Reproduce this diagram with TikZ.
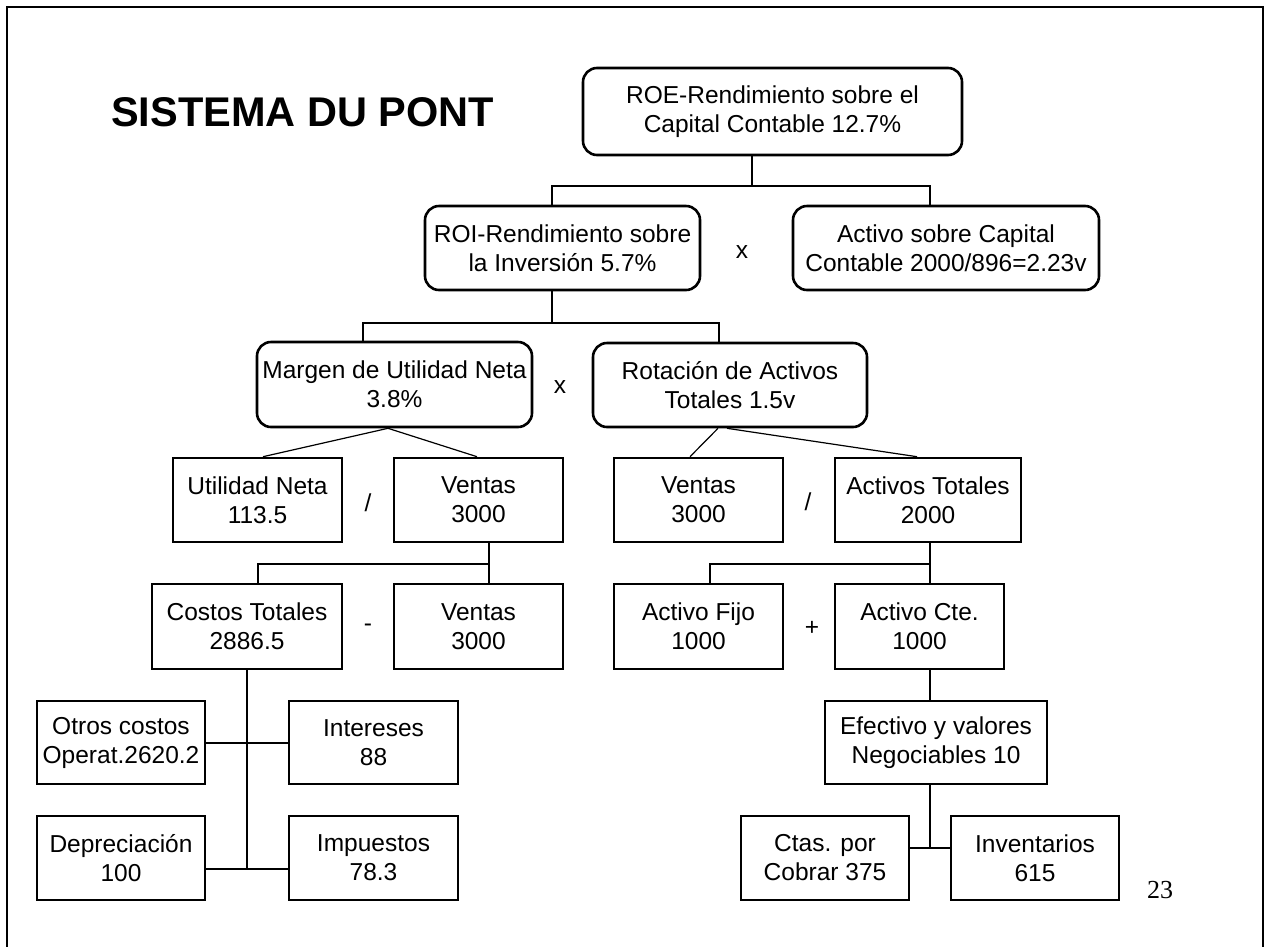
\documentclass[tikz,border=0pt]{standalone}
\usepackage{fontspec}
\setmainfont{Liberation Sans}
\newfontfamily\serifnum{Liberation Serif}
\begin{document}
\begin{tikzpicture}[x=1pt,y=-1pt,
  every node/.style={font=\fontsize{24.5}{29}\selectfont},
  sbox/.style={draw, line width=2.6pt, inner sep=0pt, align=center},
  rbox/.style={sbox, rounded corners=14pt},
  conn/.style={line width=2pt},
  thin conn/.style={line width=1.2pt},
  op/.style={inner sep=0pt}]
\useasboundingbox (0,0) rectangle (1265,946);
\clip (0,0) rectangle (1265,946);
\fill[white] (0,0) rectangle (1265,946);
\draw[line width=2pt] (6.5,7) rectangle (1263,980);
% title
\node[anchor=base west, inner sep=0pt, font=\fontsize{41.5}{48}\selectfont\bfseries] (title) at (111,126) {SISTEMA DU PONT};
% level 1
\node[rbox, minimum width=379pt, minimum height=87pt] (roe) at (772.5,111.5) {ROE-Rendimiento sobre el\\Capital Contable 12.7\%};
% level 2
\node[rbox, minimum width=275pt, minimum height=84pt] (roi) at (562.5,248) {ROI-Rendimiento sobre\\la Inversión 5.7\%};
\node[rbox, minimum width=306pt, minimum height=84pt] (actcap) at (946,248) {Activo sobre Capital\\Contable 2000/896=2.23v};
% level 3
\node[rbox, minimum width=275pt, minimum height=85pt] (margen) at (394.5,384.5) {Margen de Utilidad Neta\\3.8\%};
\node[rbox, minimum width=274pt, minimum height=84pt] (rot) at (730,385) {Rotación de Activos\\Totales 1.5v};
% level 4
\node[sbox, minimum width=169pt, minimum height=84pt] (un) at (257.5,500) {Utilidad Neta\\113.5};
\node[sbox, minimum width=169pt, minimum height=84pt] (v1) at (478.5,500) {Ventas\\3000};
\node[sbox, minimum width=169pt, minimum height=84pt] (v2) at (698.5,500) {Ventas\\3000};
\node[sbox, minimum width=186pt, minimum height=84pt] (at) at (928,500) {Activos Totales\\2000};
% level 5
\node[sbox, minimum width=190pt, minimum height=85pt] (ct) at (247,626.5) {Costos Totales\\2886.5};
\node[sbox, minimum width=169pt, minimum height=85pt] (v3) at (478.5,626.5) {Ventas\\3000};
\node[sbox, minimum width=169pt, minimum height=85pt] (af) at (698.5,626.5) {Activo Fijo\\1000};
\node[sbox, minimum width=169pt, minimum height=85pt] (ac) at (919.5,626.5) {Activo Cte.\\1000};
% level 6
\node[sbox, minimum width=168pt, minimum height=83pt] (oc) at (121,742.5) {Otros costos\\Operat.2620.2};
\node[sbox, minimum width=169pt, minimum height=83pt] (int) at (373.5,742.5) {Intereses\\88};
\node[sbox, minimum width=222pt, minimum height=83pt] (ef) at (936,742.5) {Efectivo y valores\\Negociables 10};
% level 7
\node[sbox, minimum width=168pt, minimum height=84pt] (dep) at (121,858) {Depreciación\\100};
\node[sbox, minimum width=169pt, minimum height=84pt] (imp) at (373.5,858) {Impuestos\\78.3};
\node[sbox, minimum width=168pt, minimum height=84pt] (ctas) at (825,858) {Ctas. por\\Cobrar 375};
\node[sbox, minimum width=168pt, minimum height=84pt] (inv) at (1035,858) {Inventarios\\615};
% operators
\node[op] (x1) at (742,252) {x};
\node[op] (x2) at (560,387) {x};
\node[op] (d1) at (368,503) {/};
\node[op] (d2) at (808,502) {/};
\node[op] (m1) at (368,628) {-};
\node[op] (p1) at (812,628) {+};
% page number
\node[anchor=base west, inner sep=0pt, font=\fontsize{26}{30}\serifnum] (pg) at (1147,898) {23};
% connectors
\draw[conn] ([xshift=-20.5pt]roe.south) -- ++(0,30) coordinate (j1);
\draw[conn] ([xshift=-10.5pt]roi.north) |- (j1) -| ([xshift=-16pt]actcap.north);
\draw[conn] ([xshift=-10.5pt]roi.south) -- ++(0,32) coordinate (j2);
\draw[conn] ([xshift=-31.5pt]margen.north) |- (j2) -| ([xshift=-11pt]rot.north);
\draw[thin conn] ([xshift=-6.5pt]margen.south) -- ([xshift=5.5pt]un.north);
\draw[thin conn] ([xshift=-6.5pt]margen.south) -- ([xshift=-1.5pt]v1.north);
\draw[thin conn] ([xshift=-12pt]rot.south) -- ([xshift=-8.5pt]v2.north);
\draw[thin conn] ([xshift=-3pt]rot.south) -- ([xshift=-11pt]at.north);
\draw[conn] ([xshift=10.5pt]v1.south) -- ([xshift=10.5pt]v3.north);
\draw[conn] ([xshift=11pt]ct.north) |- ([xshift=10.5pt,yshift=-21pt]v1.south);
\draw[conn] ([xshift=2pt]at.south) -- ([xshift=10.5pt]ac.north);
\draw[conn] ([xshift=11.5pt]af.north) |- ([xshift=2pt,yshift=-21pt]at.south);
\draw[conn] ([xshift=10.5pt]ac.south) -- ([xshift=-6pt]ef.north);
\draw[conn] ([yshift=-11pt]dep.east) -- ([yshift=-11pt]imp.west);
\draw[conn] (ct.south) -- ([yshift=-11pt]ct.south |- dep.east);
\draw[conn] (oc.east) -- (int.west);
\draw[conn] ([xshift=-6pt]ef.south) -- ([xshift=-6pt,yshift=10pt]ef.south |- ctas.east);
\draw[conn] ([yshift=10pt]ctas.east) -- ([yshift=10pt]inv.west);
\end{tikzpicture}
\end{document}
